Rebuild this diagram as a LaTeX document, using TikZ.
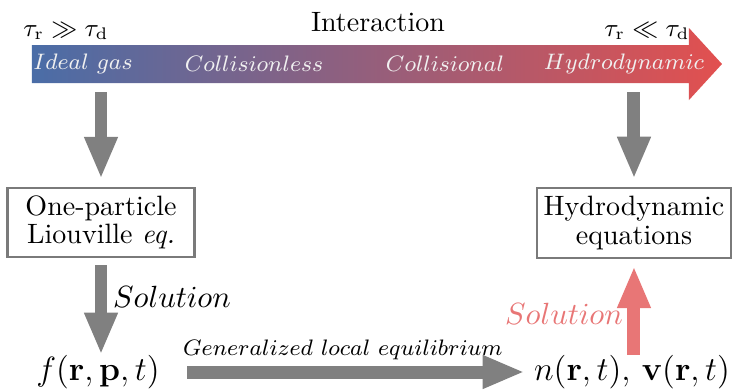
\documentclass[tikz,border=0pt]{standalone}
\usetikzlibrary{arrows.meta}
\definecolor{bandblue}{HTML}{4A6DA7}
\definecolor{bandmid}{HTML}{8E6090}
\definecolor{bandred}{HTML}{E2504F}
\definecolor{solred}{HTML}{E87676}
\definecolor{arrowgray}{HTML}{808080}
\definecolor{boxgray}{HTML}{7A7A7A}
\tikzset{
  garrow/.style={draw=arrowgray, line width=4.64pt,
    -{Triangle[width=11pt,length=15pt]}},
  rarrow/.style={draw=solred, line width=4.64pt,
    -{Triangle[width=11pt,length=15pt]}},
  bandtext/.style={text=white!94!black, inner sep=0pt, font=\fontsize{8.5}{10}\selectfont},
  taulab/.style={inner sep=0pt, font=\fontsize{8.6}{11}\selectfont},
  eqbox/.style={draw=boxgray, line width=0.8pt, align=center, inner sep=0pt,
    font=\fontsize{10}{10.2}\selectfont},
  bigmath/.style={inner sep=0pt, font=\fontsize{13}{15}\selectfont},
  sollab/.style={inner sep=0pt, font=\fontsize{10.6}{13}\selectfont},
  glelab/.style={inner sep=0pt, font=\fontsize{8.1}{10}\selectfont},
}
\begin{document}
\begin{tikzpicture}[x=0.357pt, y=-0.357pt]
\useasboundingbox (0,0) rectangle (734,390);

% interaction band: blue-to-red shaded block arrow
\shade[left color=bandblue, middle color=bandmid, right color=bandred]
  (32,45) -- (689,45) -- (689,28) -- (722,64) -- (689,100) -- (689,83)
  -- (32,83) -- cycle;

\node (inter) at (378,22) {Interaction};
\node[taulab] (slow) at (66,31) {$\tau_\mathrm{r}\gg\tau_\mathrm{d}$};
\node[taulab] (fast) at (647,31) {$\tau_\mathrm{r}\ll\tau_\mathrm{d}$};

\node[bandtext] (ideal) at (83,64) {$Ideal\ gas$};
\node[bandtext] (cless) at (254,64) {$Collisionless$};
\node[bandtext] (coll)  at (445,64) {$Collisional$};
\node[bandtext] (hydr)  at (624,64) {$Hydrodynamic$};

% equation boxes
\node[eqbox, minimum width=66.8pt, minimum height=24.6pt] (liou) at (101,222.5)
  {One-particle\\Liouville \textit{eq.}};
\node[eqbox, minimum width=69.3pt, minimum height=25pt] (hydro) at (634,223)
  {Hydrodynamic\\equations};

% distribution function and hydrodynamic fields
\node[bigmath] (f) at (98,372) {$f(\mathbf{r},\mathbf{p},t)$};
\node[bigmath] (n) at (632,372) {$n(\mathbf{r},t),\,\mathbf{v}(\mathbf{r},t)$};

% band to equations
\coordinate (s1) at (101,92);
\coordinate (s2) at (634,92);
\draw[garrow, shorten >=2.9pt] (s1) -- (liou.north);
\draw[garrow, shorten >=2.9pt] (s2) -- (hydro.north);

% solutions and local equilibrium
\draw[garrow, shorten <=2.5pt] (liou.south) -- (liou.south |- f.north);
\node[sollab] (sol1) at (172,297) {$Solution$};

\draw[garrow, shorten <=9.6pt, shorten >=3.2pt] (f.east) -- (n.west);
\node[glelab] (gle) at (343,350) {$Generalized\ local\ equilibrium$};

\draw[rarrow, shorten >=2.5pt] (hydro.south |- n.north) -- (hydro.south);
\node[sollab, text=solred] (sol2) at (564,314) {$Solution$};
\end{tikzpicture}
\end{document}
